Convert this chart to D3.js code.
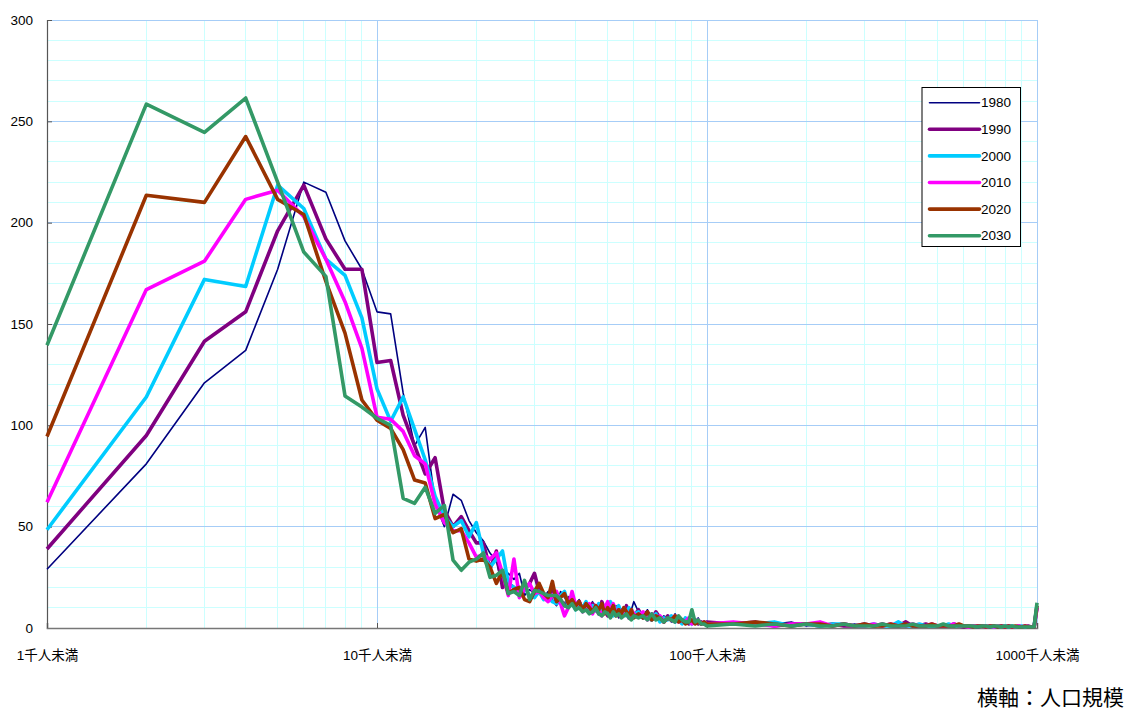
<!DOCTYPE html>
<html>
<head>
<meta charset="utf-8">
<script src="https://cdn.jsdelivr.net/npm/d3@7"></script>
<style>
  html, body { margin: 0; padding: 0; background: #fff; }
  svg { display: block; }
  text { font-family: "Liberation Sans", Arial, "Noto Sans CJK JP", sans-serif; }
</style>
</head>
<body>
<svg id="chart" width="1126" height="709"></svg>
<script>
// Population size classes (thousand people): every integer up to 60,
// every 2 up to 100, then every 20 up to 1000.
const sizes = [].concat(
  d3.range(1, 61),
  d3.range(62, 101, 2),
  d3.range(120, 1001, 20)
);

const years = ["1980", "1990", "2000", "2010", "2020", "2030"];

const v1980 = [
  29, 81, 121, 137, 177, 220, 215, 191, 177, 156,
  155, 116, 90, 99, 62, 50, 66, 63, 53, 47,
  43, 37, 33, 20, 27, 24, 27, 16, 19, 17,
  21, 15, 18, 14, 11, 18, 15, 13, 16, 12,
  14, 10, 12, 9, 13, 8, 11, 10, 7, 12,
  6, 9, 11, 5, 8, 7, 10, 6, 9, 13,
  8, 6, 9, 5, 7, 4, 6, 5, 3, 7, 4, 3, 5, 2, 4, 3, 5, 2, 3, 2,
  3, 2, 2, 3, 1, 2, 2, 1, 2, 1, 2, 1, 1, 2, 1, 1, 2, 1, 1, 1,
  1, 2, 1, 1, 1, 0.5, 1, 1, 0.5, 1, 1, 0.5, 1, 1, 0.5, 0.5, 1, 0.5, 0.5, 1,
  0.5, 0.5, 1, 0.5, 11
];

const v1990 = [
  39, 95, 141.5, 156, 196, 218.5, 192, 177, 177, 131,
  132, 105, 90, 76, 84, 58, 50, 55, 48, 42,
  42, 29, 38, 20, 22, 20, 17, 19, 22, 27,
  18, 16, 15, 20, 12, 14, 11, 15, 12, 10,
  13, 9, 11, 8, 12, 10, 7, 13, 9, 6,
  11, 8, 10, 6, 9, 7, 11, 5, 8, 6,
  9, 5, 7, 4, 8, 5, 3, 6, 4, 3, 5, 3, 4, 2, 3, 4, 2, 3, 2, 3,
  2, 3, 1, 2, 2, 1, 2, 1, 1, 2, 1, 2, 1, 1, 3, 1, 1, 2, 1, 1,
  1, 1, 2, 1, 0.5, 1, 1, 0.5, 1, 1, 0.5, 1, 0.5, 1, 0.5, 1, 0.5, 0.5, 1, 0.5,
  0.5, 1, 0.5, 0.5, 10
];

const v2000 = [
  48.5, 114, 172, 168.5, 218.5, 207, 182, 174, 153, 118,
  102, 114, 98, 83, 65, 55, 50, 53, 45, 52,
  37, 30, 34, 38, 22, 20, 18, 20, 16, 15,
  18, 14, 15, 13, 12, 16, 18, 11, 12, 9,
  12, 10, 13, 8, 11, 9, 12, 7, 10, 8,
  13, 6, 9, 11, 7, 8, 6, 10, 5, 7,
  8, 5, 6, 4, 7, 3, 5, 4, 6, 3, 4, 2, 5, 3, 2, 4, 3, 2, 3, 2,
  2, 2, 3, 1, 2, 1, 2, 2, 1, 1, 2, 1, 1, 3, 1, 1, 2, 1, 1, 1,
  1, 2, 1, 1, 1, 1, 0.5, 1, 1, 0.5, 1, 0.5, 0.5, 1, 1, 0.5, 1, 0.5, 0.5, 1,
  0.5, 0.5, 0.5, 1, 11
];

const v2010 = [
  62, 167, 181, 211.5, 216, 203, 182, 161, 138, 104,
  103, 97, 85, 81, 61, 52, 48, 48, 42, 35,
  36, 34, 37, 27, 16, 34, 15, 19, 22, 17,
  18, 15, 13, 16, 18, 12, 6, 10, 18, 11,
  13, 8, 10, 12, 7, 11, 9, 6, 10, 13,
  8, 12, 7, 9, 6, 10, 8, 5, 9, 7,
  6, 8, 4, 7, 5, 6, 3, 5, 4, 6, 3, 4, 3, 5, 2, 3, 4, 2, 3, 2,
  3, 2, 1, 2, 2, 3, 1, 2, 1, 1, 2, 1, 2, 1, 1, 2, 1, 1, 2, 1,
  1, 1, 2, 1, 1, 0.5, 1, 1, 1, 0.5, 1, 0.5, 1, 1, 0.5, 1, 0.5, 0.5, 1, 0.5,
  1, 0.5, 0.5, 0.5, 10
];

const v2020 = [
  94.5, 213.5, 210, 242.5, 211.5, 204, 171, 145.5, 112.5, 102.5,
  98.5, 88, 73, 71.5, 54, 56, 47, 49, 34, 33,
  34, 30, 22, 28, 17, 19, 20, 14, 13, 18,
  22, 17, 15, 23, 13, 15, 17, 12, 14, 11,
  13, 9, 12, 10, 8, 11, 9, 12, 7, 10,
  8, 11, 6, 9, 7, 10, 8, 6, 9, 5,
  7, 5, 8, 4, 6, 5, 3, 5, 4, 6, 3, 4, 2, 3, 4, 2, 3, 2, 3, 2,
  2, 3, 2, 1, 2, 2, 1, 2, 1, 2, 1, 1, 2, 1, 2, 1, 1, 1, 2, 1,
  1, 1, 1, 2, 1, 1, 0.5, 1, 1, 0.5, 1, 1, 0.5, 1, 0.5, 1, 0.5, 1, 0.5, 0.5,
  1, 0.5, 0.5, 0.5, 11
];

const v2030 = [
  139.5, 258.5, 244.5, 261.5, 220, 185.5, 173.5, 114.5, 109, 103.5,
  100, 64, 61.5, 69.5, 56.5, 60.5, 33.5, 28.5, 32.5, 34,
  37, 25, 26, 28.5, 17, 18, 16, 23.5, 14, 18.5,
  18, 17, 16, 16, 16, 14, 11, 10, 12, 9,
  10, 8, 9, 7, 8, 10, 7, 6, 8, 7,
  5, 8, 6, 7, 5, 6, 7, 5, 4, 6,
  5, 6, 4, 7, 4, 5, 3, 5, 4, 3, 6, 4, 3, 3, 9, 3, 4, 2, 2, 1,
  2, 1, 2, 1, 2, 1, 1, 2, 1, 1, 1, 2, 1, 1, 1, 2, 1, 1, 1, 1,
  2, 1, 1, 1, 1, 1, 1, 0.5, 1, 1, 0.5, 1, 1, 0.5, 1, 0.5, 1, 0.5, 0.5, 0.5,
  0.5, 0.5, 0.5, 0.5, 12.5
];

const seriesValues = [v1980, v1990, v2000, v2010, v2020, v2030];
const colors = ["#000080", "#800080", "#00ccff", "#ff00ff", "#993300", "#339966"];
const widths = [1.6, 3.6, 3.6, 3.6, 3.6, 3.6];

const yTicks = [0, 50, 100, 150, 200, 250, 300];
const xTicks = [1, 10, 100, 1000];
const xTickLabels = ["1千人未満", "10千人未満", "100千人未満", "1000千人未満"];
const axisTitle = "横軸：人口規模";

(function draw() {
  const svg = d3.select("#chart");
  const plotL = 47, plotR = 1037, plotT = 20, plotB = 628;

  const x = d3.scaleLog().domain([1, 1000]).range([plotL, plotR]);
  const y = d3.scaleLinear().domain([0, 300]).range([plotB, plotT]);

  // grid: minor lines first, then major lines
  const grid = svg.append("g");
  const minorY = d3.range(10, 301, 10).filter(v => v % 50 !== 0);
  grid.selectAll(".gy-minor").data(minorY).join("line")
    .attr("x1", plotL).attr("x2", plotR)
    .attr("y1", d => y(d)).attr("y2", d => y(d))
    .attr("stroke", "#ccffff").attr("stroke-width", 1)
    .attr("shape-rendering", "crispEdges");

  const minorX = [];
  [1, 10, 100].forEach(base => { for (let m = 2; m <= 9; m++) minorX.push(base * m); });
  grid.selectAll(".gx-minor").data(minorX).join("line")
    .attr("x1", d => x(d)).attr("x2", d => x(d))
    .attr("y1", plotT).attr("y2", plotB)
    .attr("stroke", "#ccffff").attr("stroke-width", 1)
    .attr("shape-rendering", "crispEdges");

  grid.selectAll(".gy-major").data(yTicks.filter(d => d > 0)).join("line")
    .attr("x1", plotL).attr("x2", plotR)
    .attr("y1", d => y(d)).attr("y2", d => y(d))
    .attr("stroke", "#a6cdf7").attr("stroke-width", 1)
    .attr("shape-rendering", "crispEdges");

  grid.selectAll(".gx-major").data([10, 100, 1000]).join("line")
    .attr("x1", d => x(d)).attr("x2", d => x(d))
    .attr("y1", plotT).attr("y2", plotB)
    .attr("stroke", "#a6cdf7").attr("stroke-width", 1)
    .attr("shape-rendering", "crispEdges");

  // axes
  const yAxis = svg.append("g").attr("transform", `translate(${plotL},0)`)
    .call(d3.axisLeft(y).tickValues(yTicks).tickSize(-5).tickPadding(14).tickFormat(d3.format("d")));
  yAxis.select(".domain").attr("stroke", "#555").attr("stroke-width", 1.2);
  yAxis.selectAll(".tick line").attr("stroke", "#555");
  yAxis.selectAll("text").attr("font-size", 13.5).attr("fill", "#000");

  const xAxis = svg.append("g").attr("transform", `translate(0,${plotB})`)
    .call(d3.axisBottom(x).tickValues(xTicks).tickSize(-5).tickPadding(22)
      .tickFormat((d, i) => xTickLabels[i]));
  xAxis.select(".domain").attr("stroke", "#777").attr("stroke-width", 1.6);
  xAxis.selectAll(".tick line").attr("stroke", "#555");
  xAxis.selectAll("text").attr("font-size", 13.5).attr("fill", "#000");

  // series lines
  const line = d3.line()
    .x((d, i) => x(sizes[i]))
    .y(d => y(d));

  svg.append("g").selectAll("path").data(seriesValues).join("path")
    .attr("d", d => line(d))
    .attr("fill", "none")
    .attr("stroke", (d, i) => colors[i])
    .attr("stroke-width", (d, i) => widths[i])
    .attr("stroke-linejoin", "round");

  // legend
  const lg = svg.append("g");
  lg.append("rect")
    .attr("x", 922).attr("y", 87.5).attr("width", 98.5).attr("height", 159)
    .attr("fill", "#fff").attr("stroke", "#000").attr("stroke-width", 1);
  years.forEach((yr, i) => {
    const cy = 102.7 + i * 26.6;
    lg.append("line")
      .attr("x1", 929.5).attr("x2", 979.5).attr("y1", cy).attr("y2", cy)
      .attr("stroke", colors[i]).attr("stroke-width", widths[i])
      .attr("stroke-linecap", "round");
    lg.append("text")
      .attr("x", 981).attr("y", cy).attr("dy", "0.35em")
      .attr("font-size", 13.5).attr("fill", "#000")
      .text(yr);
  });

  // axis title
  svg.append("text")
    .attr("x", 1124).attr("y", 705)
    .attr("text-anchor", "end")
    .attr("font-size", 21)
    .attr("font-family", "'Noto Sans CJK JP', sans-serif")
    .attr("fill", "#000")
    .text(axisTitle);
})();
</script>
</body>
</html>
